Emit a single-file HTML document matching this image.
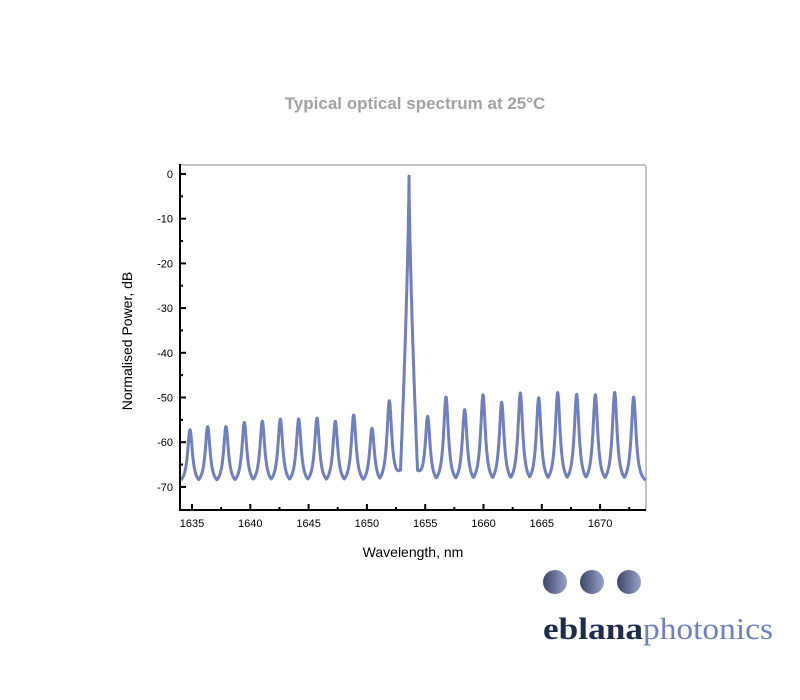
<!DOCTYPE html>
<html><head><meta charset="utf-8"><style>body{margin:0;background:#fff}svg{display:block}</style></head>
<body>
<svg id="s" width="800" height="700" xmlns="http://www.w3.org/2000/svg" font-family="Liberation Sans, sans-serif">
<defs><linearGradient id="g" x1="0" x2="1"><stop offset="0" stop-color="#3a4668"/><stop offset="1" stop-color="#9aa2c8"/></linearGradient></defs>
<text x="415" y="109" text-anchor="middle" font-size="17" font-weight="bold" fill="#a3a3a3">Typical optical spectrum at 25°C</text>
<line x1="180" y1="165" x2="646" y2="165" stroke="#c4c4c4" stroke-width="2"/>
<line x1="646" y1="165" x2="646" y2="510" stroke="#c4c4c4" stroke-width="2"/>
<g id="ax"></g>
<path id="p" fill="none" stroke="#6f7fbf" stroke-width="3" stroke-linejoin="round"/>
<line x1="180" y1="164" x2="180" y2="511" stroke="#000" stroke-width="2"/>
<line x1="179" y1="510" x2="646" y2="510" stroke="#000" stroke-width="2"/>
<text x="413" y="557" text-anchor="middle" font-size="14">Wavelength, nm</text>
<text transform="translate(132,341) rotate(-90)" text-anchor="middle" font-size="14">Normalised Power, dB</text>
<circle cx="555" cy="582" r="12" fill="url(#g)"/>
<circle cx="592" cy="582" r="12" fill="url(#g)"/>
<circle cx="629" cy="582" r="12" fill="url(#g)"/>
<text x="543" y="639" font-family="Liberation Serif, serif" font-size="31"><tspan font-weight="bold" fill="#1c2c4c" textLength="100" lengthAdjust="spacingAndGlyphs">eblana</tspan><tspan fill="#6f7fbf" textLength="130" lengthAdjust="spacingAndGlyphs">photonics</tspan></text>
</svg>
<script>
var X=function(w){return 192+(w-1635)*11.66},Y=function(d){return 174-d*4.47};
var ax=document.getElementById('ax'),h='';
for(var d=0;d>=-70;d-=5){var y=Y(d),len=d%10==0?6:3;h+='<line x1="180" y1="'+y+'" x2="'+(180+len)+'" y2="'+y+'" stroke="#000" stroke-width="2"/>';
if(d%10==0)h+='<text x="173" y="'+(y+4)+'" text-anchor="end" font-size="11">'+d+'</text>';}
for(var w=1635;w<=1672.5;w+=2.5){var x=X(w),len=w%5==0?6:3;h+='<line x1="'+x+'" y1="510" x2="'+x+'" y2="'+(510-len)+'" stroke="#000" stroke-width="2"/>';
if(w%5==0)h+='<text x="'+x+'" y="527" text-anchor="middle" font-size="11">'+w+'</text>';}
ax.innerHTML=h;
var zx=[120,173,228,283,337,391,446,501,556,611,666,718,833,888,944,999,1055,1111,1166,1223,1280,1336,1394,1451];
var pk=[-57.2,-56.5,-56.5,-55.6,-55.3,-54.8,-54.8,-54.6,-55.3,-53.9,-56.9,-50.7,-54.2,-49.9,-52.7,-49.4,-51.1,-49,-50.1,-48.9,-49.3,-49.4,-48.9,-49.9];
var wl=zx.map(function(z){return 1635+((150+z/3)-192)/11.66});
var main=1635+((150+777/3)-192)/11.66;
var pts=[];
for(var w=1634.05;w<=1673.9;w+=0.01){
 var dm=Math.abs(w-main);
 var fl=-69.6+4.5*Math.exp(-Math.pow(dm/0.9,2)), v=-200;
 for(var i=0;i<wl.length;i++){var dd=(w-wl[i])/0.25;var L=1/(1+dd*dd);var c=fl+(pk[i]-fl)*L;if(c>v)v=c;}
 var mc=-45*Math.pow(dm/0.42,0.7);if(mc>v)v=mc;
 pts.push(X(w).toFixed(1)+','+Y(v).toFixed(1));
}
document.getElementById('p').setAttribute('d','M'+pts.join('L'));
</script>
</body></html>
